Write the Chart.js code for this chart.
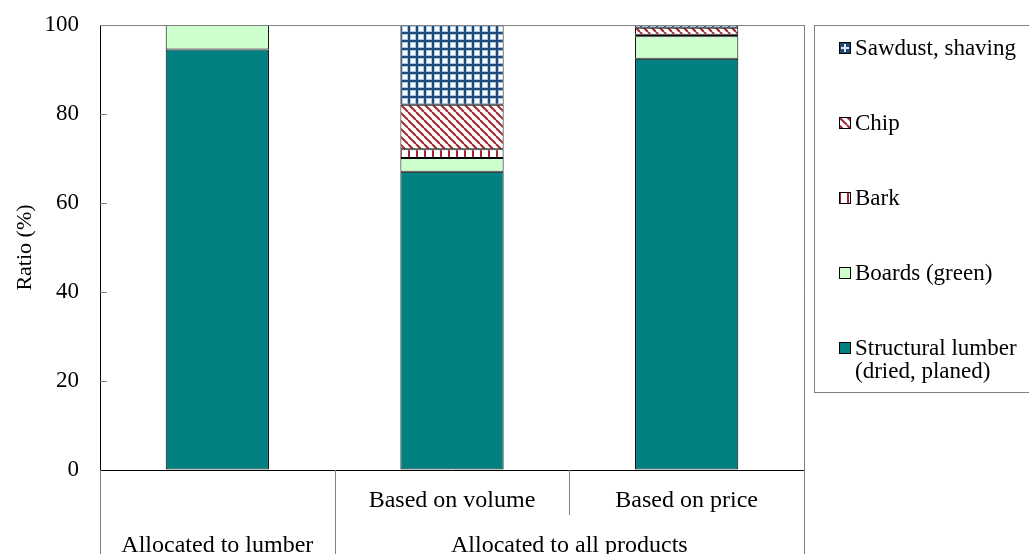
<!DOCTYPE html>
<html>
<head>
<meta charset="utf-8">
<script src="https://cdn.jsdelivr.net/npm/chart.js@4.4.1/dist/chart.umd.min.js"></script>
<style>
  html, body { margin: 0; padding: 0; background: #fff; }
  #wrap { position: relative; width: 1029px; height: 554px; overflow: hidden; }
  #chart { position: absolute; left: 0; top: 0; }
  #legend {
    position: absolute; left: 814px; top: 25px; width: 240px; height: 368px;
    border: 1px solid #808080; box-sizing: border-box;
    font-family: 'Liberation Serif', 'Times New Roman', serif; font-size: 23px;
    line-height: 23px; color: #000;
  }
  .item { position: absolute; left: 24px; display: flex; align-items: flex-start; }
  .item canvas { margin-top: 6px; margin-right: 4px; flex: none; }
</style>
</head>
<body>
<div id="wrap">
  <canvas id="chart" width="1029" height="554"></canvas>
  <div id="legend"></div>
</div>
<script>
// Category axis: lower sub-labels and the upper grouping row
const categories = ['lumber', 'volume', 'price'];
const subLabels = ['', 'Based on volume', 'Based on price'];
const groupLabels = ['Allocated to lumber', 'Allocated to all products'];
const groupSpans = [[0, 0], [1, 2]];

// Share of each product (%)
const structuralLumber = [94.5, 67.0, 92.4];
const boardsGreen = [5.5, 3.1, 5.1];
const bark = [0, 2.0, 0.3];
const chip = [0, 10.0, 1.6];
const sawdust = [0, 17.9, 0.6];

const yTicks = [0, 20, 40, 60, 80, 100];

const FONT = "'Liberation Serif', 'Times New Roman', serif";

function tile(size, paint) {
  const c = document.createElement('canvas');
  c.width = size; c.height = size;
  const g = c.getContext('2d');
  g.fillStyle = '#fff';
  g.fillRect(0, 0, size, size);
  paint(g);
  return c;
}

function makePatterns(ctx) {
  const grid = tile(8, g => {
    g.fillStyle = '#a9c4e0';
    g.fillRect(0, 2, 8, 1); g.fillRect(2, 0, 1, 8);
    g.fillRect(0, 7, 8, 1); g.fillRect(7, 0, 1, 8);
    g.fillStyle = '#1f4a7a';
    g.fillRect(0, 0, 8, 2); g.fillRect(0, 0, 2, 8);
  });
  const diag = tile(8, g => {
    g.strokeStyle = '#a3262c';
    g.lineWidth = 2;
    for (const k of [-8, 0, 8]) {
      g.beginPath(); g.moveTo(k, 0); g.lineTo(k + 8, 8); g.stroke();
    }
  });
  const vert = tile(8, g => {
    g.fillStyle = '#a3262c';
    g.fillRect(0, 0, 2, 8);
  });
  // small legend key for the sawdust pattern: dark square with a light cross
  const gridKey = tile(12, g => {
    g.fillStyle = '#1f4a7a';
    g.fillRect(0, 0, 12, 12);
    g.fillStyle = '#dfe9f5';
    g.fillRect(2, 5, 8, 2); g.fillRect(5, 2, 2, 8);
  });
  return {
    grid: ctx.createPattern(grid, 'repeat'),
    diag: ctx.createPattern(diag, 'repeat'),
    vert: ctx.createPattern(vert, 'repeat'),
    gridKey, diagTile: diag, vertTile: vert
  };
}

function draw() {
  const canvas = document.getElementById('chart');
  const ctx = canvas.getContext('2d');
  const p = makePatterns(ctx);

  const datasets = [
    { label: 'Structural lumber\n(dried, planed)', data: structuralLumber, backgroundColor: '#008080', swatch: '#008080' },
    { label: 'Boards (green)', data: boardsGreen, backgroundColor: '#ccffcc', swatch: '#ccffcc' },
    { label: 'Bark', data: bark, backgroundColor: p.vert, swatch: p.vertTile },
    { label: 'Chip', data: chip, backgroundColor: p.diag, swatch: p.diagTile },
    { label: 'Sawdust, shaving', data: sawdust, backgroundColor: p.grid, swatch: p.gridKey }
  ].map(d => Object.assign(d, {
    borderColor: '#000', borderWidth: 1, borderSkipped: false,
    categoryPercentage: 1.0, barPercentage: 0.44
  }));

  const frame = {
    id: 'frame',
    afterDraw(chart) {
      const { ctx, chartArea: a, scales: { x, y } } = chart;
      const H = chart.height;
      const cw = (x.right - x.left) / categories.length;
      ctx.save();
      ctx.lineWidth = 1;
      ctx.strokeStyle = '#808080';
      const seg = (x1, y1, x2, y2) => { ctx.beginPath(); ctx.moveTo(x1, y1); ctx.lineTo(x2, y2); ctx.stroke(); };
      // top and right edges of the plot
      seg(a.left, Math.round(a.top) + 0.5, a.right, Math.round(a.top) + 0.5);
      const rx = Math.round(a.right) + 0.5;
      seg(rx, a.top, rx, H);
      // inward tick marks on the value axis
      yTicks.forEach(v => {
        const py = Math.round(y.getPixelForValue(v)) + 0.5;
        if (v > 0 && v < 100) seg(a.left, py, a.left + 7, py);
      });
      // separators below the category axis
      const bottom = Math.round(a.bottom);
      seg(Math.round(a.left) + 0.5, bottom, Math.round(a.left) + 0.5, H);
      groupSpans.forEach(([s, e]) => {
        const bx = Math.round(x.left + cw * (e + 1)) + 0.5;
        if (e + 1 < categories.length) seg(bx, bottom, bx, H);
      });
      for (let i = 1; i < categories.length; i++) {
        const bx = Math.round(x.left + cw * i) + 0.5;
        const groupEdge = groupSpans.some(([s, e]) => e + 1 === i);
        if (!groupEdge) seg(bx, bottom, bx, bottom + 45);
      }
      // labels
      ctx.fillStyle = '#000';
      ctx.font = '24px ' + FONT;
      ctx.textAlign = 'center';
      ctx.textBaseline = 'middle';
      subLabels.forEach((t, i) => {
        if (t) ctx.fillText(t, x.getPixelForValue(i), a.bottom + 31);
      });
      groupSpans.forEach(([s, e], gi) => {
        const cx = x.left + cw * (s + e + 1) / 2;
        ctx.fillText(groupLabels[gi], cx, a.bottom + 76);
      });
      ctx.restore();
    }
  };

  new Chart(ctx, {
    type: 'bar',
    data: { labels: categories, datasets },
    options: {
      responsive: false,
      animation: false,
      layout: { padding: { left: 0, right: 225, top: 25, bottom: 0 } },
      plugins: { legend: { display: false }, tooltip: { enabled: false } },
      scales: {
        x: {
          stacked: true,
          grid: { display: false },
          border: { display: true, color: '#000', width: 1 },
          ticks: { display: false },
          afterFit(s) { s.height = 84; }
        },
        y: {
          stacked: true,
          min: 0, max: 100,
          afterBuildTicks(s) { s.ticks = yTicks.map(v => ({ value: v })); },
          grid: { display: true, drawOnChartArea: false, drawTicks: false },
          border: { display: true, color: '#000', width: 1 },
          ticks: { color: '#000', padding: 21, font: { family: FONT, size: 23 } },
          title: {
            display: true, text: 'Ratio (%)', color: '#000',
            font: { family: FONT, size: 22 }, padding: { top: 12, bottom: 0 }
          },
          afterFit(s) { s.width = 100; s.paddingTop = 0; s.paddingBottom = 0; }
        }
      }
    },
    plugins: [frame]
  });

  // legend, top entry first
  const legend = document.getElementById('legend');
  const order = datasets.slice().reverse();
  let top = 10;
  order.forEach(d => {
    const item = document.createElement('div');
    item.className = 'item';
    item.style.top = top + 'px';
    const sw = document.createElement('canvas');
    sw.width = 12; sw.height = 12;
    const g = sw.getContext('2d');
    g.fillStyle = typeof d.swatch === 'string' ? d.swatch : g.createPattern(d.swatch, 'repeat');
    g.fillRect(0, 0, 12, 12);
    g.strokeStyle = '#000'; g.lineWidth = 1;
    g.strokeRect(0.5, 0.5, 11, 11);
    const txt = document.createElement('div');
    txt.innerHTML = d.label.split('\n').join('<br>');
    item.appendChild(sw);
    item.appendChild(txt);
    legend.appendChild(item);
    top += 75;
  });
}

document.fonts.load('23px "Liberation Serif"').then(draw, draw);
</script>
</body>
</html>
